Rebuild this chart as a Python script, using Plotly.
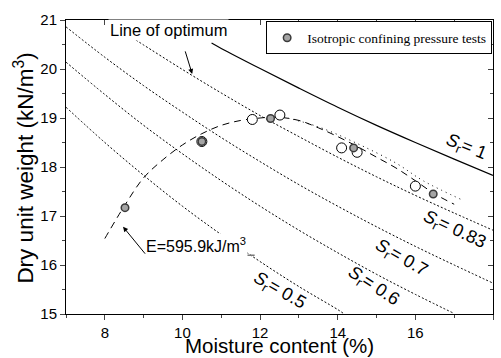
import plotly.graph_objects as go

# Saturation lines (moisture %, dry unit weight kN/m3)
sr_w = [7, 8, 9, 10, 11, 12, 13, 14, 15, 16, 17, 18]
sr1_w = [10.75, 11, 12, 13, 14, 15, 16, 17, 18]
sr1_g = [20.53, 20.42, 20.01, 19.61, 19.22, 18.85, 18.50, 18.16, 17.83]
sr083_w = [8.8, 9, 10, 11, 12, 13, 14, 15, 16, 17, 18]
sr083_g = [20.59, 20.49, 19.99, 19.51, 19.05, 18.62, 18.20, 17.80, 17.42, 17.06, 16.71]
sr07_g = [20.86, 20.24, 19.66, 19.12, 18.60, 18.11, 17.64, 17.20, 16.78, 16.38, 16.00, 15.63]
sr06_w = [7, 8, 9, 10, 11, 12, 13, 14, 15, 16, 17]
sr06_g = [20.14, 19.48, 18.85, 18.27, 17.72, 17.20, 16.71, 16.25, 15.81, 15.40, 15.01]
sr05_w = [7, 8, 9, 10, 11, 12, 13, 14, 14.17]
sr05_g = [19.22, 18.50, 17.83, 17.20, 16.62, 16.07, 15.56, 15.09, 15.0]

# Compaction curves
comp_w = [8.0, 8.5, 9.0, 9.5, 10.0, 10.5, 11.0, 11.5, 12.0, 12.4, 13.0, 13.5, 14.0, 14.5, 15.0, 15.5, 16.0, 16.5, 17.0]
comp_g = [16.54, 17.2, 17.78, 18.15, 18.45, 18.68, 18.85, 18.95, 19.0, 19.02, 18.95, 18.8, 18.62, 18.42, 18.2, 17.98, 17.72, 17.45, 17.24]
comp2_w = [12.6, 13.5, 14.5, 15.5, 16.2, 17.2]
comp2_g = [19.02, 18.82, 18.48, 18.08, 17.72, 17.33]

# Tests
iso_w = [8.52, 10.5, 12.27, 14.41, 16.46]
iso_g = [17.17, 18.52, 18.99, 18.39, 17.45]
open_w = [10.5, 11.8, 12.51, 14.1, 14.5, 16.0]
open_g = [18.52, 18.97, 19.06, 18.39, 18.30, 17.61]

fig = go.Figure()
thin = dict(color="black", width=1, dash="2px,2px")
fig.add_trace(go.Scatter(x=sr1_w, y=sr1_g, mode="lines", line=dict(color="black", width=1.2), line_shape="spline", showlegend=False))
fig.add_trace(go.Scatter(x=sr083_w, y=sr083_g, mode="lines", line=thin, line_shape="spline", showlegend=False))
fig.add_trace(go.Scatter(x=sr_w, y=sr07_g, mode="lines", line=thin, line_shape="spline", showlegend=False))
fig.add_trace(go.Scatter(x=sr06_w, y=sr06_g, mode="lines", line=thin, line_shape="spline", showlegend=False))
fig.add_trace(go.Scatter(x=sr05_w, y=sr05_g, mode="lines", line=thin, line_shape="spline", showlegend=False))
fig.add_trace(go.Scatter(x=comp_w, y=comp_g, mode="lines", line=dict(color="black", width=1, dash="7px,5px"), line_shape="spline", showlegend=False))
fig.add_trace(go.Scatter(x=comp2_w, y=comp2_g, mode="lines", line=dict(color="black", width=1, dash="1px,4px"), line_shape="spline", showlegend=False))
fig.add_trace(go.Scatter(x=open_w, y=open_g, mode="markers", marker=dict(size=10, color="white", line=dict(color="black", width=1)), showlegend=False))
fig.add_trace(go.Scatter(x=iso_w, y=iso_g, mode="markers", name="Isotropic confining pressure tests",
                         marker=dict(size=7.5, color="#a4a4a4", line=dict(color="#3a3a3a", width=1.5))))
# helper trace for mirrored inward ticks
fig.add_trace(go.Scatter(x=[7, 18], y=[15, 21], xaxis="x2", yaxis="y2", mode="markers",
                         marker=dict(opacity=0), showlegend=False, hoverinfo="skip"))

SANS = "Arial, Liberation Sans, sans-serif"
axfont = dict(family=SANS, size=15, color="black")
fig.update_layout(
    width=501, height=358,
    margin=dict(l=66, r=8, t=20, b=44),
    plot_bgcolor="white", paper_bgcolor="white",
    font=dict(family=SANS, color="black"),
    xaxis=dict(range=[7, 18], dtick=2, tick0=8, ticks="outside", ticklen=5, tickwidth=1,
               minor=dict(ticks="outside", dtick=1, tick0=7, ticklen=3),
               showline=True, linecolor="black", linewidth=1, mirror=True, showgrid=False, zeroline=False,
               tickfont=axfont, automargin=False),
    yaxis=dict(range=[15, 21], dtick=1, ticks="outside", ticklen=5, tickwidth=1,
               minor=dict(ticks="outside", dtick=0.5, ticklen=3),
               showline=True, linecolor="black", linewidth=1, mirror=True, showgrid=False, zeroline=False,
               tickfont=axfont, automargin=False),
    xaxis2=dict(range=[7, 18], overlaying="x", side="top", dtick=2, tick0=8, ticks="inside", ticklen=5,
                minor=dict(ticks="inside", dtick=1, tick0=7, ticklen=3), automargin=False,
                showticklabels=False, showgrid=False, zeroline=False, showline=False),
    yaxis2=dict(range=[15, 21], overlaying="y", side="right", dtick=1, ticks="inside", ticklen=5,
                minor=dict(ticks="inside", dtick=0.5, ticklen=3), automargin=False,
                showticklabels=False, showgrid=False, zeroline=False, showline=False),
    legend=dict(x=0.998, y=0.995, xanchor="right", yanchor="top", bgcolor="white",
                bordercolor="black", borderwidth=1, itemwidth=30,
                font=dict(family="Liberation Serif, Times New Roman, serif", size=13.5, color="black")),
    showlegend=True,
)

# axis titles
fig.add_annotation(xref="paper", yref="paper", x=-0.098, y=0.495, xanchor="center", yanchor="middle",
                   text="Dry unit weight (kN/m<sup>3</sup>)",
                   textangle=-90, showarrow=False, font=dict(family=SANS, size=22.5, color="black"))
fig.add_annotation(xref="paper", yref="paper", x=0.5, y=-0.149, xanchor="center", yanchor="bottom",
                   text="Moisture content (%)", showarrow=False, borderpad=0,
                   font=dict(family=SANS, size=20.5, color="black"))

sfont = dict(family=SANS, size=18, color="black")
labels = [("1", 17.30, 18.39, 22), ("0.83", 17.02, 16.71, 25), ("0.7", 15.64, 16.14, 30),
          ("0.6", 14.91, 15.56, 33), ("0.5", 12.51, 15.46, 30)]
for t, x, y, a in labels:
    fig.add_annotation(x=x, y=y, text="<i>S</i><sub>r</sub>= " + t, showarrow=False, textangle=a, font=sfont)

fig.add_annotation(x=9.65, y=20.8, text="Line of optimum", showarrow=False, bgcolor="white",
                   font=dict(family=SANS, size=16.5, color="black"))
fig.add_annotation(x=10.25, y=19.9, ax=10.06, ay=20.39, axref="x", ayref="y", text="", showarrow=True,
                   arrowhead=2, arrowsize=1, arrowwidth=1, arrowcolor="black")
fig.add_annotation(x=9.02, y=16.41, text="E=595.9kJ/m<sup>3</sup>", showarrow=False, xanchor="left",
                   bgcolor="white", font=dict(family=SANS, size=16, color="black"))
fig.add_shape(type="line", x0=9.07, x1=11.86, y0=16.20, y1=16.20, line=dict(color="#777777", width=1.5))
fig.add_annotation(x=8.47, y=16.78, ax=9.07, ay=16.20, axref="x", ayref="y", text="", showarrow=True,
                   arrowhead=2, arrowsize=1, arrowwidth=1, arrowcolor="black")

fig.write_html("out.html")
